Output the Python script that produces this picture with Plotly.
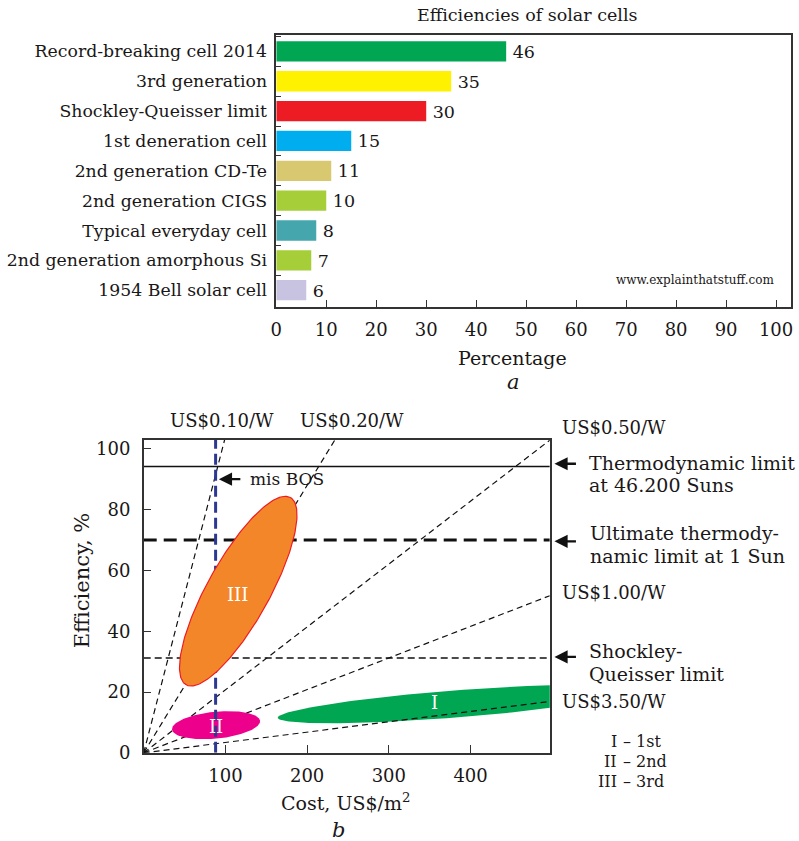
import numpy as np
import plotly.graph_objects as go

# ---------------- data: panel a ----------------
cell_types = ["Record-breaking cell 2014", "3rd generation", "Shockley-Queisser limit",
              "1st deneration cell", "2nd generation CD-Te", "2nd generation CIGS",
              "Typical everyday cell", "2nd generation amorphous Si", "1954 Bell solar cell"]
efficiency_pct = [46, 35, 30, 15, 11, 10, 8, 7, 6]
bar_colors = ["#00a651", "#fff200", "#ed1c24", "#00aeef", "#d8c971", "#a6ce39",
              "#45a6ae", "#a6ce39", "#c7c3e0"]
pct_ticks = [0, 10, 20, 30, 40, 50, 60, 70, 80, 90, 100]

# ---------------- data: panel b ----------------
cost_ticks = [100, 200, 300, 400]
eff_ticks = [0, 20, 40, 60, 80, 100]
cost_max = 497
eff_max = 103
price_labels = ["US$0.10/W", "US$0.20/W", "US$0.50/W", "US$1.00/W", "US$3.50/W"]
price_slopes = [1.04, 0.44, 0.207, 0.104, 0.034]
limit_names = ["Thermodynamic limit at 46.200 Suns", "Ultimate thermodynamic limit at 1 Sun",
               "Shockley-Queisser limit"]
limit_values = [94.2, 70.0, 31.2]
bos_cost = 88
region_names = ["I", "II", "III"]
region_cx = [382.4, 88.5, 115.7]
region_cy = [16.1, 9.1, 53.2]
region_ux = [218.5, 53.9, 63.9]
region_uy = [4.57, 1.41, 30.8]
region_vx = [-1.25, -1.51, -33.0]
region_vy = [4.43, 4.40, 5.05]
region_label_cost = [356, 89, 115]
region_label_eff = [16.5, 8.5, 52.0]
region_colors = ["#00a651", "#ec008c", "#f4862a"]
legend_numerals = ["I", "II", "III"]
legend_gens = ["1st", "2nd", "3rd"]

W, H = 799, 841          # reference picture size (layout grid)
FIG_H = 851              # page is photographed slightly taller than the window
FONT = "DejaVu Serif"
INK = "#1a1718"


def px(x):
    return x / W


def py(y):
    return 1 - y / H


fig = go.Figure()

fig.add_trace(go.Bar(
    y=cell_types, x=efficiency_pct, orientation="h",
    marker=dict(color=bar_colors, line=dict(width=0)),
    width=0.68, text=["\u2009" + str(v) for v in efficiency_pct], textposition="outside",
    textfont=dict(family=FONT, size=19, color=INK), cliponaxis=False,
    xaxis="x", yaxis="y", showlegend=False, hoverinfo="skip"))

t = np.linspace(0, 2 * np.pi, 240)


def ellipse(i):
    xs = region_cx[i] + region_ux[i] * np.cos(t) + region_vx[i] * np.sin(t)
    ys = region_cy[i] + region_uy[i] * np.cos(t) + region_vy[i] * np.sin(t)
    return xs, ys


def add_region(i, line_color=None):
    xs, ys = ellipse(i)
    fig.add_trace(go.Scatter(
        x=xs, y=ys, mode="lines", fill="toself", fillcolor=region_colors[i],
        line=dict(color=line_color or region_colors[i], width=1.2 if line_color else 0),
        xaxis="x2", yaxis="y2", showlegend=False, hoverinfo="skip"))


add_region(0)
for s in price_slopes:
    fig.add_trace(go.Scatter(
        x=[0, cost_max], y=[0, s * cost_max], mode="lines",
        line=dict(color="#111", width=1.2, dash="6px,4px"),
        xaxis="x2", yaxis="y2", showlegend=False, hoverinfo="skip"))
limit_styles = [dict(width=1.3, dash="solid"), dict(width=3, dash="13px,7px"),
                dict(width=1.3, dash="7px,4px")]
for v, st in zip(limit_values, limit_styles):
    fig.add_trace(go.Scatter(
        x=[0, cost_max], y=[v, v], mode="lines",
        line=dict(color="#111", **st),
        xaxis="x2", yaxis="y2", showlegend=False, hoverinfo="skip"))
add_region(1)
fig.add_trace(go.Scatter(
    x=[bos_cost, bos_cost], y=[0, eff_max], mode="lines",
    line=dict(color="#2b3990", width=3, dash="11px,5px"),
    xaxis="x2", yaxis="y2", showlegend=False, hoverinfo="skip"))
add_region(2, line_color="#ed1c24")

axis_common = dict(showline=True, mirror=True, linecolor="#333", linewidth=1.5,
                   showgrid=False, zeroline=False,
                   tickfont=dict(family=FONT, size=18, color=INK),
                   tickcolor="#333", tickwidth=1.3)

fig.update_layout(
    width=W, height=FIG_H, margin=dict(l=0, r=0, t=0, b=0),
    paper_bgcolor="white", plot_bgcolor="white",
    font=dict(family=FONT, color=INK),
    xaxis=dict(domain=[px(273), px(793)], range=[0, 103], tickvals=pct_ticks,
               ticks="inside", ticklen=7, anchor="y", ticklabelstandoff=6, **axis_common),
    yaxis=dict(domain=[py(306), py(34)], type="category", range=[8.55, -0.55],
               categoryorder="array", categoryarray=cell_types,
               ticks="inside", ticklen=5, tickson="boundaries", anchor="x",
               ticklabelstandoff=4,
               **{**axis_common, "tickfont": dict(family=FONT, size=17.3, color=INK)}),
    xaxis2=dict(domain=[px(139.1), px(549.3)], range=[0, cost_max], tickvals=cost_ticks,
                ticks="inside", ticklen=8, anchor="y2", ticklabelstandoff=6, **axis_common),
    yaxis2=dict(domain=[py(752.7), py(439.3)], range=[0, eff_max], tickvals=eff_ticks,
                ticks="inside", ticklen=8, anchor="x2", ticklabelstandoff=8, **axis_common),
)

ann = []


def text(x, y, s, size=18, xanchor="center", italic=False, angle=0, color=INK):
    ann.append(dict(x=px(x), y=py(y), xref="paper", yref="paper", text=s,
                    showarrow=False, xanchor=xanchor, yanchor="middle", textangle=angle,
                    font=dict(family=FONT, size=size, color=color,
                              style="italic" if italic else "normal")))


def arrow(x_tip, y_tip, length=23):
    ann.append(dict(x=px(x_tip), y=py(y_tip), xref="paper", yref="paper", text="",
                    showarrow=True, ax=length, ay=0, arrowhead=2, arrowsize=1.1,
                    arrowwidth=2.4, arrowcolor="#111"))


text(527, 14, "Efficiencies of solar cells", size=17.5)
text(511.7, 357.7, "Percentage", size=19)
text(513, 381, "a", size=21, italic=True)
text(696, 279, "www.explainthatstuff.com", size=12)
text(76.7, 580, "Efficiency, %", size=21, angle=-90)
text(343, 801.7, "Cost, US$/m<sup>2</sup>", size=19)
text(335.7, 830, "b", size=21, italic=True)
text(218.3, 420, price_labels[0], size=18)
text(350, 420, price_labels[1], size=18)
text(560, 427.3, price_labels[2], size=18, xanchor="left")
text(560, 592.7, price_labels[3], size=18, xanchor="left")
text(560, 701.7, price_labels[4], size=18, xanchor="left")
text(587, 462.7, "Thermodynamic limit", size=19, xanchor="left")
text(587, 485, "at 46.200 Suns", size=19, xanchor="left")
text(588, 532.7, "Ultimate thermody-", size=19, xanchor="left")
text(588, 556, "namic limit at 1 Sun", size=19, xanchor="left")
text(587, 650.7, "Shockley-", size=19, xanchor="left")
text(587, 674, "Queisser limit", size=19, xanchor="left")
arrow(554, 463.3)
arrow(554, 541)
arrow(554, 656.7)
arrow(215, 478.7)
text(244.3, 478.7, "mis BOS", size=17, xanchor="left")
for i, name in enumerate(region_names):
    ann.append(dict(x=region_label_cost[i], y=region_label_eff[i], xref="x2", yref="y2",
                    text=name, showarrow=False,
                    font=dict(family=FONT, size=18, color="white")))
for k, (n, g) in enumerate(zip(legend_numerals, legend_gens)):
    yy = 741.7 + 20 * k
    text(619, yy, n, size=16, xanchor="right")
    text(621, yy, "– " + g, size=16, xanchor="left")

fig.update_layout(annotations=ann)
fig.write_html("out.html", config={"displayModeBar": False},
               post_script="document.body.style.margin='0px';")
